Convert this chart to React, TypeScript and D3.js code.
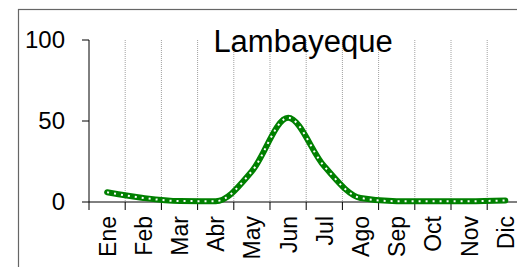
import React from 'react';
import * as d3 from 'd3';

const months = ['Ene', 'Feb', 'Mar', 'Abr', 'May', 'Jun', 'Jul', 'Ago', 'Sep', 'Oct', 'Nov', 'Dic'];
const values = [6, 2.5, 0.6, 0.5, 19, 52, 22, 2.5, 0.5, 0.5, 0.5, 1];
const yTicks = [0, 50, 100];
const title = 'Lambayeque';

const W = 517;
const H = 267;
const left = 89;
const step = 36.2;
const top = 40;
const bottom = 202;
const font = '"Liberation Sans", Arial, sans-serif';

export default function App() {
  const x = d3.scaleBand<string>()
    .domain(months)
    .range([left, left + step * months.length])
    .padding(0);
  const y = d3.scaleLinear().domain([0, 100]).range([bottom, top]);

  const line = d3.line<number>()
    .x((_, i) => (x(months[i]) ?? 0) + x.bandwidth() / 2)
    .y(d => y(d))
    .curve(d3.curveMonotoneX);

  const path = line(values) ?? '';
  // boundaries between categories
  const bounds = d3.range(months.length + 1).map(i => left + i * x.bandwidth());

  return (
    <svg width={W} height={H} style={{ position: 'absolute', left: 0, top: 0, display: 'block' }}>
      <rect x={0} y={0} width={W} height={H} fill="#fff" />
      {/* outer chart border, partly outside the picture */}
      <rect x={18.5} y={9.5} width={W + 20} height={H + 20} fill="none" stroke="#666" strokeWidth={1.2} />

      {/* vertical dotted gridlines */}
      {bounds.slice(1, -1).map(b => (
        <line key={b} x1={b} x2={b} y1={top} y2={bottom} stroke="#a0a0a0" strokeWidth={1} strokeDasharray="1,1" />
      ))}

      {/* y axis */}
      <line x1={left} x2={left} y1={top} y2={bottom} stroke="#000" strokeWidth={1} />
      {yTicks.map(t => (
        <g key={t}>
          <line x1={left - 7} x2={left} y1={y(t)} y2={y(t)} stroke="#000" />
          <text x={left - 24} y={y(t)} dy="0.35em" textAnchor="end" fontFamily={font} fontSize={24} fill="#000">{t}</text>
        </g>
      ))}

      {/* x axis */}
      <line x1={left} x2={W} y1={bottom} y2={bottom} stroke="#000" strokeWidth={1} />
      {bounds.map(b => (
        <line key={'t' + b} x1={b} x2={b} y1={bottom} y2={bottom + 8} stroke="#000" />
      ))}
      {months.map(m => {
        const cx = (x(m) ?? 0) + x.bandwidth() / 2;
        return (
          <text key={m} transform={`translate(${cx + 8.5},${bottom + 14}) rotate(-90)`} textAnchor="end" fontFamily={font} fontSize={23} fill="#000">{m}</text>
        );
      })}

      {/* series */}
      <path d={path} fill="none" stroke="#008000" strokeWidth={6} strokeLinecap="round" strokeLinejoin="round" />
      <path d={path} fill="none" stroke="#fff" strokeWidth={2} strokeDasharray="2,5" />

      <text x={303} y={52} textAnchor="middle" fontFamily={font} fontSize={31} fill="#000">{title}</text>
    </svg>
  );
}
